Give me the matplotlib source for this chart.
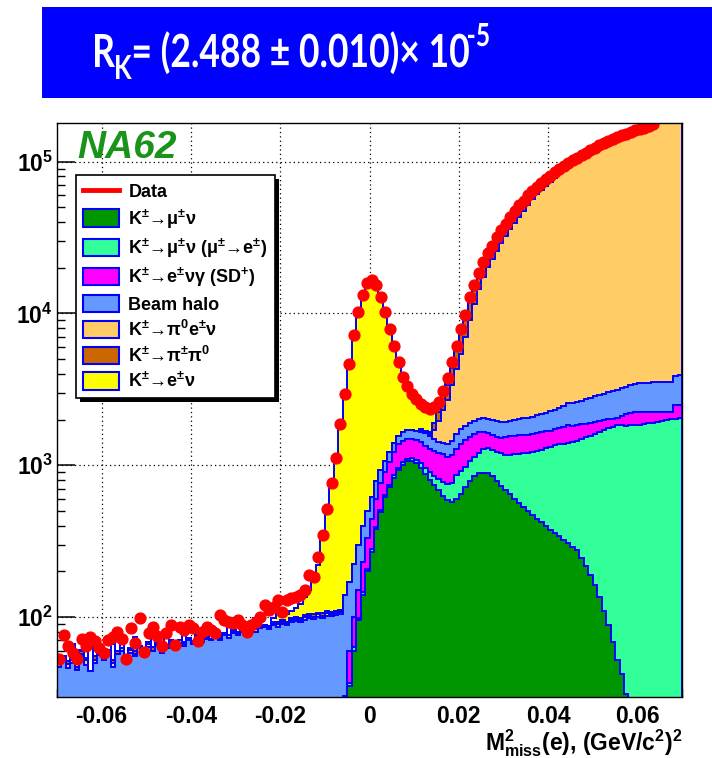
import numpy as np
import matplotlib
matplotlib.use("Agg")
import matplotlib.pyplot as plt
from matplotlib.patches import Patch, Rectangle, PathPatch
from matplotlib.lines import Line2D
from matplotlib.ticker import MultipleLocator, FixedLocator, LogLocator, FuncFormatter, NullFormatter
from matplotlib.textpath import TextPath
from matplotlib.font_manager import FontProperties
from matplotlib.transforms import Affine2D

plt.rcParams.update({
    "font.family": ["Liberation Sans", "DejaVu Sans"],
    "font.weight": "bold",
    "mathtext.fontset": "custom",
    "mathtext.rm": "Liberation Sans:bold",
    "mathtext.it": "Liberation Sans:bold:italic",
    "mathtext.bf": "Liberation Sans:bold",
    "mathtext.sf": "Liberation Sans:bold",
    "axes.unicode_minus": False,
})

# ---------------- histogram binning: 140 bins of 0.001 (GeV/c^2)^2 ----------------
bin_edges = np.linspace(-0.07, 0.07, 141)
bin_centers = 0.5 * (bin_edges[:-1] + bin_edges[1:])

# ---------------- data (events per bin) ----------------
data = np.array([
    53, 76, 64, 58, 53, 72, 64, 74, 69, 62,
    58, 70, 74, 80, 72, 53, 84, 67, 98, 59,
    78, 86, 75, 64, 78, 89, 65, 86, 82, 89,
    84, 69, 80, 86, 82, 78, 103, 96, 92, 91,
    96, 89, 80, 89, 93, 100, 120, 111, 117, 129,
    108, 129, 133, 136, 140, 150, 189, 184, 250, 346,
    511, 760, 1120, 1880, 2960, 4660, 7250, 10300, 13200, 15800,
    16500, 15400, 12900, 10300, 7850, 6100, 4800, 3800, 3350, 2960,
    2720, 2550, 2420, 2340, 2420, 2610, 3090, 3750, 4800, 6100,
    7850, 9800, 12800, 15400, 18600, 22000, 25000, 28000, 32000, 35500,
    39000, 43000, 47500, 51500, 55500, 60000, 64500, 68500, 72500, 77000,
    81000, 85000, 89000, 93500, 97500, 102000, 106000, 111000, 115000, 119000,
    123000, 128000, 132000, 136000, 141000, 145000, 149000, 153000, 157000, 161000,
    165000, 168000, 172000, 176000, 181000, 185000, 189000, 193000, 197000, 201000,
], dtype=float)

# ---------------- MC components (events per bin) ----------------
k_mu_nu = np.array([0] * 65 + [
    35, 60, 95, 140, 200, 270, 380, 490, 620, 720,
    830, 930, 1010, 1060, 1070, 1030, 960, 880, 800, 740,
    690, 630, 590, 575, 600, 650, 720, 790, 850, 885,
    895, 885, 845, 790, 730, 690, 645, 600, 565, 530,
    500, 470, 445, 420, 395, 375, 360, 340, 320, 305,
    290, 275, 245, 218, 190, 162, 135, 110, 88, 68,
    52, 42, 31] + [0] * 12, dtype=float)

k_mu_nu_mu_e = np.array([0] * 65 + [
    2, 3, 4, 6, 8, 10, 12, 15, 18, 22,
    26, 30, 35, 40, 48, 58, 70, 85, 100, 115,
    125, 140, 160, 185, 260, 270, 260, 270, 280, 315,
    375, 405, 415, 440, 470, 485, 525, 580, 625, 670,
    710, 750, 795, 840, 895, 945, 990, 1030, 1070, 1095,
    1130, 1175, 1245, 1312, 1380, 1448, 1515, 1590, 1662, 1732,
    1788, 1788, 1789, 1840, 1850, 1850, 1870, 1890, 1910, 1930,
    1960, 1990, 2010, 2030, 2050], dtype=float)

k_e_nu_gamma_sd = np.array([0] * 64 + [
    30, 23, 37, 51, 84, 122, 160, 208, 255, 262,
    308, 364, 410, 405, 400, 382, 382, 390, 375, 380,
    385, 395, 410, 390, 410, 420, 470, 480, 470, 470,
    450, 390, 330, 320, 310, 320, 355, 390, 390, 390,
    375, 380, 390, 390, 390, 380, 370, 370, 380, 410,
    440, 400, 380, 370, 350, 330, 320, 310, 290, 260,
    230, 200, 270, 370, 380, 390, 400, 370, 360, 340,
    310, 290, 270, 250, 450, 440], dtype=float)

beam_halo = np.array([
    47, 52, 46, 50, 45, 55, 48, 44, 50, 56,
    52, 58, 47, 57, 60, 53, 58, 55, 62, 57,
    63, 60, 64, 58, 62, 65, 63, 67, 64, 70,
    66, 71, 68, 72, 70, 74, 71, 76, 73, 78,
    76, 80, 77, 82, 80, 84, 86, 83, 88, 86,
    90, 88, 92, 94, 93, 96, 98, 97, 100, 99,
    102, 101, 103, 104, 110, 110, 125, 150, 170, 170,
    180, 190, 170, 160, 170, 180, 190, 210, 200, 210,
    220, 240, 280, 280, 250, 220, 220, 240, 280, 320,
    330, 360, 370, 360, 370, 380, 410, 420, 420, 410,
    410, 410, 420, 430, 465, 470, 480, 500, 530, 550,
    580, 600, 630, 670, 720, 740, 770, 790, 840, 890,
    910, 940, 970, 1010, 1050, 1110, 1150, 1110, 1160, 1190,
    1210, 1240, 1250, 1270, 1300, 1290, 1290, 1300, 1420, 1430,
], dtype=float)

k_pi0_e_nu = np.array([
    2, 0, 3, 2, 0, 2, 4, 0, 2, 3,
    0, 2, 3, 0, 2, 0, 3, 2, 0, 2,
    3, 0, 2, 0, 3, 2, 0, 3, 2, 0,
    2, 3, 0, 2, 0, 3, 2, 0, 3, 2,
    0, 2, 3, 0, 3, 2, 0, 3, 2, 4,
    3, 2, 4, 3, 2, 4, 3, 3, 4, 3,
    4, 3, 4, 4] + [0] * 17 + [
    30, 30, 40, 210, 520, 900, 1320, 1950, 2700, 3680,
    5180, 7100, 9540, 12480, 15460, 18170, 21000, 24040, 27070, 30560,
    34030, 37510, 41490, 45460, 49940, 54410, 58870, 62820, 67280, 71730,
    76180, 80620, 85530, 89940, 94440, 98900, 103850, 108280, 112710, 117160,
    122100, 126540, 130980, 135920, 139850, 144250, 148200, 152120, 156070, 160540,
    163520, 167500, 171480, 176460, 180460, 184450, 188440, 192100, 196080], dtype=float)

k_pi_pi0 = np.array([
    0, 2, 2, 0, 2, 3, 2, 0, 3, 0,
    2, 0, 2, 3, 0, 2, 0, 3, 2, 0,
    2, 3, 0, 2, 0, 2, 3, 0, 2, 3,
    0, 2, 3, 0, 2, 0, 3, 2, 0, 2,
    3, 0, 2, 3, 0, 2, 3, 0, 3, 2,
    3, 3, 2, 3, 4, 3, 3, 4, 3, 4,
    3, 4, 3, 4] + [0] * 17 + [
    30, 30, 50, 200, 300, 450, 700, 1000, 1500, 2150,
    2550, 3550, 3700, 3900, 4300, 4600, 4800, 5800, 6300, 6300,
    6800, 7800, 7800, 7800, 7800, 7800, 7300, 7300, 7300, 6800,
    6300, 5800, 5300, 4800, 4800, 4300, 4300, 3800, 3300, 2800,
    2800, 2300, 1800, 1800, 1800, 1300, 1300, 1300, 1300, 800,
    800, 800, 800, 800, 800, 800, 800, 800, 800], dtype=float)

k_e_nu = np.array([
    0, 1, 0, 14, 0, 1, 15, 0, 13, 1,
    0, 1, 14, 0, 13, 0, 1, 14, 0, 1,
    0, 15, 1, 0, 14, 1, 0, 1, 14, 0,
    1, 0, 1, 15, 0, 1, 0, 1, 16, 0,
    1, 0, 1, 0, 16, 1, 0, 1, 5, 15,
    6, 12, 12, 15, 23, 32, 46, 66, 113, 214,
    371, 632, 990, 1738, 2820, 4490, 7025, 10000, 12800, 15300,
    15880, 14610, 11970, 9240, 6630, 4700, 3240, 2140, 1650, 1250,
    1030, 830, 740, 690, 520, 360, 340, 350, 400, 300,
    300, 250, 250, 200, 200, 200] + [200] * 44, dtype=float)

labels = [
    "Data",
    "K$^{±}$→μ$^{±}$ν",
    "K$^{±}$→μ$^{±}$ν (μ$^{±}$→e$^{±}$)",
    "K$^{±}$→e$^{±}$νγ (SD$^{+}$)",
    "Beam halo",
    "K$^{±}$→π$^{0}$e$^{±}$ν",
    "K$^{±}$→π$^{±}$π$^{0}$",
    "K$^{±}$→e$^{±}$ν",
]
x_ticks = [-0.06, -0.04, -0.02, 0.0, 0.02, 0.04, 0.06]
y_ticks = [1e2, 1e3, 1e4, 1e5]

for arr in (data, k_mu_nu, k_mu_nu_mu_e, k_e_nu_gamma_sd, beam_halo, k_pi0_e_nu, k_pi_pi0, k_e_nu):
    assert len(arr) == 140, len(arr)

# ---------------- styling ----------------
fill_colors = ["#009600", "#33ff99", "#ff00ff", "#6699ff", "#ffcc66", "#cc6600", "#ffff00"]
line_blue = "#0000ff"
W, H = 712, 758
y_lo, y_hi = 29.7, 1.8e5

fig = plt.figure(figsize=(W / 100, H / 100), dpi=100)
fig.patch.set_facecolor("white")
ax = fig.add_axes([57 / W, 61 / H, 625 / W, 574 / H])
ax.set_yscale("log")
ax.set_xlim(-0.07, 0.07)
ax.set_ylim(y_lo, y_hi)

layers = [k_mu_nu, k_mu_nu_mu_e, k_e_nu_gamma_sd, beam_halo, k_pi0_e_nu, k_pi_pi0, k_e_nu]
stack = np.cumsum(np.array(layers), axis=0)

# stacked histogram, painted from the top sum downwards
for k in range(len(layers) - 1, -1, -1):
    level = np.where(stack[k] > 0, stack[k], 1.0)
    z = 2 + (len(layers) - 1 - k) * 0.2
    ax.stairs(level, bin_edges, baseline=1.0, fill=True, facecolor=fill_colors[k],
              edgecolor="none", zorder=z)
    if k == len(layers) - 1:
        tail = bin_centers < -0.0215
        ax.bar(bin_centers[tail], k_e_nu[tail], bottom=stack[k - 1][tail], width=0.001,
               color="white", linewidth=0, zorder=z + 0.05)
    ax.stairs(level, bin_edges, baseline=1.0, fill=False, edgecolor=line_blue,
              linewidth=1.4, zorder=z + 0.1)

# data points (only those inside the frame)
inside = data < y_hi
ax.plot(bin_centers[inside], data[inside], "o", ms=7.8, color="#ff0000", mec="#ff0000",
        zorder=6)

# axes, ticks, grid
ax.xaxis.set_major_locator(FixedLocator(x_ticks))
ax.xaxis.set_minor_locator(MultipleLocator(0.005))
ax.xaxis.set_major_formatter(FuncFormatter(lambda v, p: "0" if abs(v) < 1e-9 else f"{v:.2f}"))
ax.yaxis.set_major_locator(FixedLocator(y_ticks))
ax.yaxis.set_minor_locator(LogLocator(base=10, subs=np.arange(2, 10)))
ax.yaxis.set_minor_formatter(NullFormatter())
ax.yaxis.set_major_formatter(FuncFormatter(lambda v, p: "10$^{%d}$" % round(np.log10(v))))
ax.tick_params(which="major", direction="in", length=13, width=1.1, top=False, right=False,
               labelsize=16.5, color="black")
ax.tick_params(which="minor", direction="in", length=6, width=1.0, top=False, right=False)
ax.tick_params(axis="x", which="major", pad=6)
ax.tick_params(axis="y", which="major", pad=3)
ax.grid(True, which="major", color="black", linestyle=(0, (1, 2.5)), linewidth=0.9)
ax.set_axisbelow(True)
for s in ax.spines.values():
    s.set_linewidth(1.0)
    s.set_zorder(8)

ax.text(1.0, -0.093, r"$\mathrm{M}^{2}_{\mathrm{miss}}$(e), (GeV/c$^{2}$)$^{2}$",
        transform=ax.transAxes, ha="right", va="baseline", fontsize=16.5)

ax.text(0.032, 0.939, "NA62", transform=ax.transAxes, ha="left", va="baseline",
        fontsize=28, fontstyle="italic", fontweight="bold", color="#1a931a", zorder=9)

# legend
handles = [Line2D([], [], color="#ff0000", linewidth=3.5)]
handles += [Patch(facecolor=c, edgecolor=line_blue, linewidth=1.5) for c in fill_colors]
leg = ax.legend(handles, labels, loc="upper left", bbox_to_anchor=(0.0304, 0.909),
                bbox_transform=ax.transAxes, borderaxespad=0, frameon=True, fancybox=False,
                edgecolor="black", framealpha=1,
                prop=FontProperties(family="Liberation Sans", weight="bold", size=13),
                handlelength=2.0, handleheight=1.1, handletextpad=0.5,
                labelspacing=0.33, borderpad=0.4)
leg.get_frame().set_linewidth(1.2)
leg.set_zorder(10)
fig.canvas.draw()
bb = leg.get_window_extent()
inv = fig.transFigure.inverted()
(x0, y0), (x1, y1) = inv.transform([(bb.x0 + 4, bb.y0 - 4), (bb.x1 + 4, bb.y1 - 4)])
ax.add_patch(Rectangle((x0, y0), x1 - x0, y1 - y0, transform=fig.transFigure,
                       facecolor="black", edgecolor="none", clip_on=False, zorder=9.5))

# result banner
fig.add_artist(Rectangle((42 / W, 1 - 98 / H), (W - 42) / W, 91 / H, transform=fig.transFigure,
                         facecolor="#0000ff", edgecolor="none"))
banner_font = FontProperties(family="Lato")
cap_ref = TextPath((0, 0), "R", size=100, prop=banner_font).get_extents().y1
main_txt = "= (2.488 ± 0.010)× 10"
main_ext = TextPath((0, 0), main_txt, size=100, prop=banner_font).get_extents()
sy_main = 33 / cap_ref
squeeze = (465 - 130) / (main_ext.width * sy_main)


def banner_piece(s, left, baseline, cap):
    path = TextPath((0, 0), s, size=100, prop=banner_font)
    ext = path.get_extents()
    sy = cap / cap_ref
    sx = sy * squeeze
    tr = (Affine2D().translate(-ext.x0, 0).scale(sx / W, sy / H)
          .translate(left / W, 1 - baseline / H) + fig.transFigure)
    fig.add_artist(PathPatch(path, transform=tr, facecolor="white", edgecolor="none"))
    return left + ext.width * sx


r_end = banner_piece("R", 95, 67, 33)
k_end = banner_piece("K", r_end + 1, 79, 24)
banner_piece(main_txt, max(130, k_end + 2), 67, 33)
banner_piece("-5", 468, 46, 23)

fig.savefig("out.png", dpi=100)
